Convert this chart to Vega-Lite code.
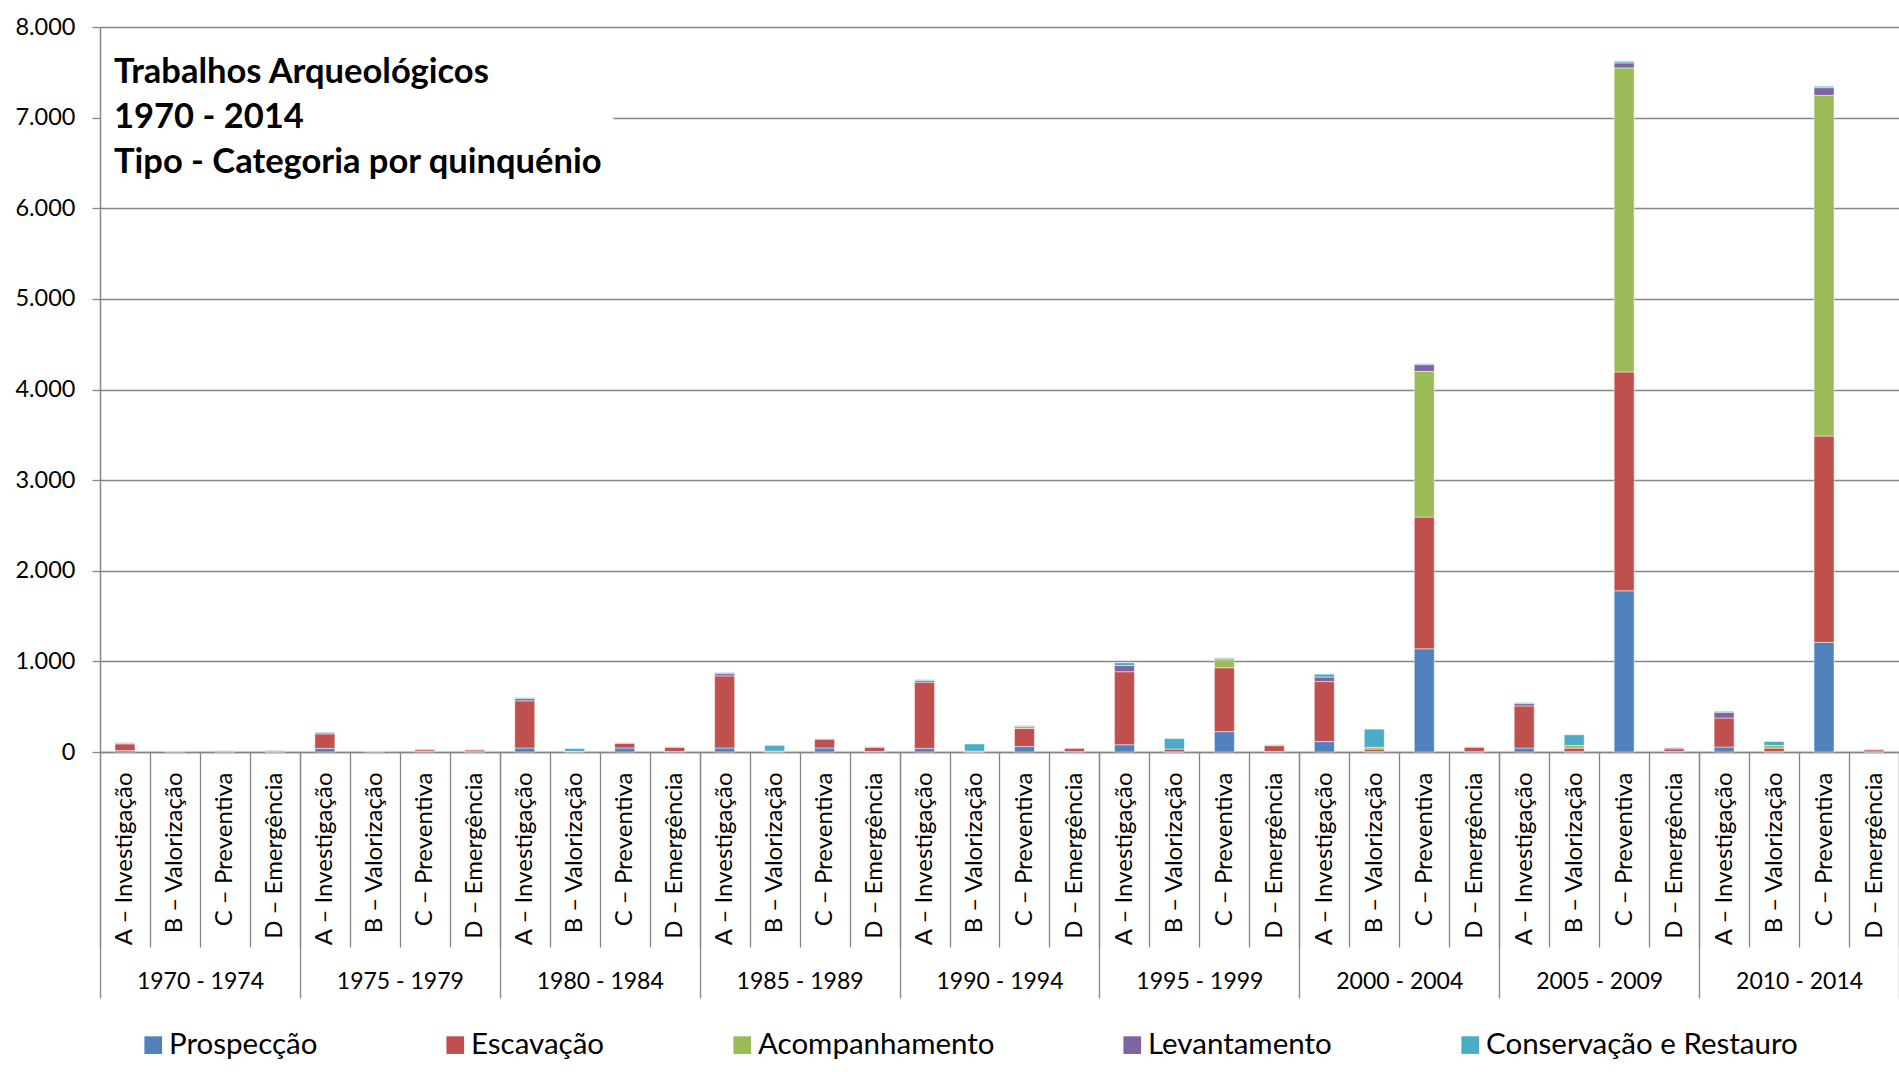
{
  "$schema": "https://vega.github.io/schema/vega-lite/v6.json",
  "width": 1799,
  "height": 725,
  "autosize": {"type": "none"},
  "padding": {"left": 100, "top": 27, "right": 0, "bottom": 320},
  "background": "white",
  "config": {
    "view": {"stroke": null},
    "font": "Lato",
    "axis": {"labelFont": "Lato", "labelColor": "black", "domainColor": "#868686", "tickColor": "#868686"}
  },
  "title": {
    "text": ["Trabalhos Arqueológicos", "1970 - 2014", "Tipo - Categoria por quinquénio"],
    "anchor": "start",
    "frame": "group",
    "orient": "top",
    "offset": -193,
    "dx": 14,
    "font": "Lato",
    "fontSize": 34.5,
    "fontWeight": "bold",
    "color": "black",
    "baseline": "alphabetic",
    "lineHeight": 45.4
  },
  "datasets": {
    "barras": [
      {"periodo": "1970 - 1974", "barra": "1970 - 1974|A – Investigação", "Prospecção": 15, "Escavação": 75, "Acompanhamento": 0, "Levantamento": 8, "Conservação e Restauro": 6},
      {"periodo": "1970 - 1974", "barra": "1970 - 1974|B – Valorização", "Prospecção": 0, "Escavação": 0, "Acompanhamento": 0, "Levantamento": 0, "Conservação e Restauro": 2},
      {"periodo": "1970 - 1974", "barra": "1970 - 1974|C – Preventiva", "Prospecção": 3, "Escavação": 10, "Acompanhamento": 0, "Levantamento": 2, "Conservação e Restauro": 0},
      {"periodo": "1970 - 1974", "barra": "1970 - 1974|D – Emergência", "Prospecção": 2, "Escavação": 10, "Acompanhamento": 0, "Levantamento": 5, "Conservação e Restauro": 0},
      {"periodo": "1975 - 1979", "barra": "1975 - 1979|A – Investigação", "Prospecção": 40, "Escavação": 160, "Acompanhamento": 0, "Levantamento": 12, "Conservação e Restauro": 8},
      {"periodo": "1975 - 1979", "barra": "1975 - 1979|B – Valorização", "Prospecção": 0, "Escavação": 0, "Acompanhamento": 0, "Levantamento": 0, "Conservação e Restauro": 3},
      {"periodo": "1975 - 1979", "barra": "1975 - 1979|C – Preventiva", "Prospecção": 5, "Escavação": 20, "Acompanhamento": 0, "Levantamento": 5, "Conservação e Restauro": 0},
      {"periodo": "1975 - 1979", "barra": "1975 - 1979|D – Emergência", "Prospecção": 3, "Escavação": 20, "Acompanhamento": 0, "Levantamento": 3, "Conservação e Restauro": 0},
      {"periodo": "1980 - 1984", "barra": "1980 - 1984|A – Investigação", "Prospecção": 45, "Escavação": 520, "Acompanhamento": 0, "Levantamento": 25, "Conservação e Restauro": 10},
      {"periodo": "1980 - 1984", "barra": "1980 - 1984|B – Valorização", "Prospecção": 3, "Escavação": 3, "Acompanhamento": 0, "Levantamento": 0, "Conservação e Restauro": 32},
      {"periodo": "1980 - 1984", "barra": "1980 - 1984|C – Preventiva", "Prospecção": 45, "Escavação": 52, "Acompanhamento": 5, "Levantamento": 3, "Conservação e Restauro": 0},
      {"periodo": "1980 - 1984", "barra": "1980 - 1984|D – Emergência", "Prospecção": 5, "Escavação": 48, "Acompanhamento": 0, "Levantamento": 5, "Conservação e Restauro": 2},
      {"periodo": "1985 - 1989", "barra": "1985 - 1989|A – Investigação", "Prospecção": 45, "Escavação": 795, "Acompanhamento": 0, "Levantamento": 25, "Conservação e Restauro": 12},
      {"periodo": "1985 - 1989", "barra": "1985 - 1989|B – Valorização", "Prospecção": 3, "Escavação": 8, "Acompanhamento": 0, "Levantamento": 0, "Conservação e Restauro": 62},
      {"periodo": "1985 - 1989", "barra": "1985 - 1989|C – Preventiva", "Prospecção": 45, "Escavação": 97, "Acompanhamento": 5, "Levantamento": 3, "Conservação e Restauro": 0},
      {"periodo": "1985 - 1989", "barra": "1985 - 1989|D – Emergência", "Prospecção": 5, "Escavação": 45, "Acompanhamento": 0, "Levantamento": 10, "Conservação e Restauro": 3},
      {"periodo": "1990 - 1994", "barra": "1990 - 1994|A – Investigação", "Prospecção": 40, "Escavação": 730, "Acompanhamento": 0, "Levantamento": 18, "Conservação e Restauro": 10},
      {"periodo": "1990 - 1994", "barra": "1990 - 1994|B – Valorização", "Prospecção": 2, "Escavação": 8, "Acompanhamento": 0, "Levantamento": 0, "Conservação e Restauro": 78},
      {"periodo": "1990 - 1994", "barra": "1990 - 1994|C – Preventiva", "Prospecção": 60, "Escavação": 200, "Acompanhamento": 22, "Levantamento": 8, "Conservação e Restauro": 5},
      {"periodo": "1990 - 1994", "barra": "1990 - 1994|D – Emergência", "Prospecção": 4, "Escavação": 38, "Acompanhamento": 0, "Levantamento": 3, "Conservação e Restauro": 0},
      {"periodo": "1995 - 1999", "barra": "1995 - 1999|A – Investigação", "Prospecção": 80, "Escavação": 806, "Acompanhamento": 0, "Levantamento": 68, "Conservação e Restauro": 31},
      {"periodo": "1995 - 1999", "barra": "1995 - 1999|B – Valorização", "Prospecção": 2, "Escavação": 30, "Acompanhamento": 0, "Levantamento": 0, "Conservação e Restauro": 116},
      {"periodo": "1995 - 1999", "barra": "1995 - 1999|C – Preventiva", "Prospecção": 225, "Escavação": 705, "Acompanhamento": 88, "Levantamento": 15, "Conservação e Restauro": 7},
      {"periodo": "1995 - 1999", "barra": "1995 - 1999|D – Emergência", "Prospecção": 5, "Escavação": 65, "Acompanhamento": 0, "Levantamento": 8, "Conservação e Restauro": 3},
      {"periodo": "2000 - 2004", "barra": "2000 - 2004|A – Investigação", "Prospecção": 115, "Escavação": 662, "Acompanhamento": 0, "Levantamento": 50, "Conservação e Restauro": 32},
      {"periodo": "2000 - 2004", "barra": "2000 - 2004|B – Valorização", "Prospecção": 4, "Escavação": 28, "Acompanhamento": 20, "Levantamento": 0, "Conservação e Restauro": 200},
      {"periodo": "2000 - 2004", "barra": "2000 - 2004|C – Preventiva", "Prospecção": 1139, "Escavação": 1453, "Acompanhamento": 1608, "Levantamento": 74, "Conservação e Restauro": 11},
      {"periodo": "2000 - 2004", "barra": "2000 - 2004|D – Emergência", "Prospecção": 3, "Escavação": 50, "Acompanhamento": 0, "Levantamento": 4, "Conservação e Restauro": 0},
      {"periodo": "2005 - 2009", "barra": "2005 - 2009|A – Investigação", "Prospecção": 44, "Escavação": 464, "Acompanhamento": 0, "Levantamento": 26, "Conservação e Restauro": 11},
      {"periodo": "2005 - 2009", "barra": "2005 - 2009|B – Valorização", "Prospecção": 3, "Escavação": 40, "Acompanhamento": 29, "Levantamento": 0, "Conservação e Restauro": 118},
      {"periodo": "2005 - 2009", "barra": "2005 - 2009|C – Preventiva", "Prospecção": 1779, "Escavação": 2415, "Acompanhamento": 3355, "Levantamento": 55, "Conservação e Restauro": 18},
      {"periodo": "2005 - 2009", "barra": "2005 - 2009|D – Emergência", "Prospecção": 5, "Escavação": 30, "Acompanhamento": 0, "Levantamento": 12, "Conservação e Restauro": 3},
      {"periodo": "2010 - 2014", "barra": "2010 - 2014|A – Investigação", "Prospecção": 55, "Escavação": 320, "Acompanhamento": 0, "Levantamento": 63, "Conservação e Restauro": 11},
      {"periodo": "2010 - 2014", "barra": "2010 - 2014|B – Valorização", "Prospecção": 3, "Escavação": 40, "Acompanhamento": 29, "Levantamento": 0, "Conservação e Restauro": 44},
      {"periodo": "2010 - 2014", "barra": "2010 - 2014|C – Preventiva", "Prospecção": 1209, "Escavação": 2277, "Acompanhamento": 3760, "Levantamento": 85, "Conservação e Restauro": 15},
      {"periodo": "2010 - 2014", "barra": "2010 - 2014|D – Emergência", "Prospecção": 2, "Escavação": 22, "Acompanhamento": 7, "Levantamento": 0, "Conservação e Restauro": 0}
    ],
    "tipos": [
      {"tipo": "Prospecção", "ordem": 1},
      {"tipo": "Escavação", "ordem": 2},
      {"tipo": "Acompanhamento", "ordem": 3},
      {"tipo": "Levantamento", "ordem": 4},
      {"tipo": "Conservação e Restauro", "ordem": 5}
    ]
  },
  "data": {"name": "barras"},
  "layer": [
    {
      "transform": [
        {"fold": ["Prospecção", "Escavação", "Acompanhamento", "Levantamento", "Conservação e Restauro"], "as": ["tipo", "valor"]},
        {"lookup": "tipo", "from": {"data": {"name": "tipos"}, "key": "tipo", "fields": ["ordem"]}},
        {"filter": "datum.valor > 0"}
      ],
      "mark": {"type": "bar", "width": {"band": 0.4}, "stroke": "white", "strokeWidth": 0.8, "strokeOpacity": 0.6},
      "encoding": {
        "x": {
          "field": "barra", "type": "nominal",
          "scale": {"padding": 0},
          "axis": {
            "title": null,
            "labelExpr": "split(datum.label, '|')[1]",
            "labelAngle": -90,
            "labelFontSize": 24,
            "labelPadding": -175,
            "labelLimit": 400,
            "labelColor": "black",
            "tickBand": "extent",
            "tickSize": 195,
            "tickWidth": 1.3,
            "tickColor": "#868686",
            "domainColor": "#868686",
            "domainWidth": 1.5,
            "grid": false
          }
        },
        "y": {
          "field": "valor", "type": "quantitative", "stack": "zero",
          "scale": {"domain": [0, 8000], "nice": false},
          "axis": {
            "title": null,
            "values": [0, 1000, 2000, 3000, 4000, 5000, 6000, 7000, 8000],
            "labelExpr": "replace(format(datum.value, ','), ',', '.')",
            "labelFontSize": 23.5,
            "labelPadding": 17,
            "labelColor": "black",
            "tickSize": 8,
            "tickWidth": 1.3,
            "tickColor": "#868686",
            "domainColor": "#868686",
            "domainWidth": 1.5,
            "grid": true,
            "gridColor": "#868686",
            "gridWidth": 1.3,
            "gridOpacity": 1,
            "gridDash": {"condition": {"test": "datum.value === 7000", "value": [0, 513, 3000]}, "value": []}
          }
        },
        "color": {
          "field": "tipo", "type": "nominal",
          "scale": {
            "domain": ["Prospecção", "Escavação", "Acompanhamento", "Levantamento", "Conservação e Restauro"],
            "range": ["#4F81BD", "#C0504D", "#9BBB59", "#8064A2", "#4BACC6"]
          },
          "legend": {
            "orient": "none",
            "legendX": 38.5,
            "legendY": 1003,
            "direction": "horizontal",
            "title": null,
            "symbolType": "square",
            "symbolSize": 313,
            "symbolStrokeWidth": 0,
            "symbolOpacity": 1,
            "labelFont": "Lato",
            "labelFontSize": 29.5,
            "labelColor": "black",
            "labelOffset": 1,
            "labelLimit": 500,
            "columnPadding": 123,
            "padding": 0
          }
        },
        "order": {"field": "ordem", "type": "quantitative"}
      }
    },
    {
      "mark": {"type": "point", "opacity": 0},
      "encoding": {
        "x": {
          "field": "periodo", "type": "nominal",
          "scale": {"padding": 0},
          "axis": {
            "orient": "bottom",
            "title": null,
            "labelAngle": 0,
            "labelFontSize": 23,
            "labelPadding": -28,
            "labelColor": "black",
            "labelBaseline": "top",
            "tickBand": "extent",
            "tickSize": 246,
            "tickWidth": 1.3,
            "tickColor": "#868686",
            "domain": false,
            "grid": false
          }
        }
      }
    }
  ],
  "resolve": {"scale": {"x": "independent"}, "axis": {"x": "independent"}}
}
